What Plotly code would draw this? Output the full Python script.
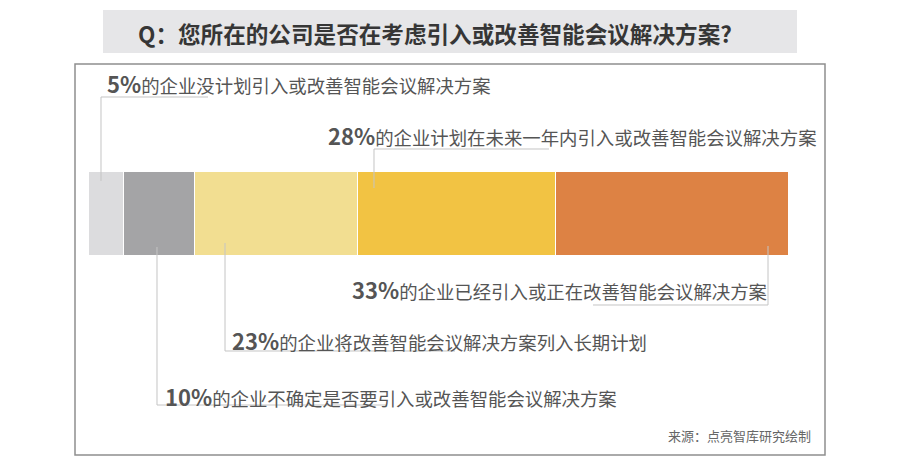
import plotly.graph_objects as go

# survey answers, left to right along the bar
pcts = [5, 10, 23, 28, 33]
descs = [
    "的企业没计划引入或改善智能会议解决方案",
    "的企业不确定是否要引入或改善智能会议解决方案",
    "的企业将改善智能会议解决方案列入长期计划",
    "的企业计划在未来一年内引入或改善智能会议解决方案",
    "的企业已经引入或正在改善智能会议解决方案",
]
colors = ["#dcdcde", "#a4a4a6", "#f2de91", "#f2c343", "#dd8244"]
title = "Q：您所在的公司是否在考虑引入或改善智能会议解决方案?"
source = "来源：点亮智库研究绘制"

W, H = 900, 471
# plot area (the bar) in pixels
L, R, T, B = 89, 789, 172, 256


def px(x):
    return (x - L) / (R - L)


def py(y):
    return (B - y) / (B - T)


# label placement (pixels): text left x, text centre y, leader polyline
labels = [
    (105, 83, [(101, 181), (101, 97), (208, 97)]),
    (163, 396, [(157, 247), (157, 405), (387, 405)]),
    (230, 340, [(225, 243), (225, 351), (455, 351)]),
    (326, 135, [(374, 188), (374, 149), (549, 149)]),
    (350, 289, [(768, 246), (768, 305), (593, 305)]),
]

fig = go.Figure()
for p, c in zip(pcts, colors):
    fig.add_trace(go.Bar(
        x=[p], y=[""], orientation="h",
        marker=dict(color=c, line=dict(color="white", width=1)),
        hoverinfo="skip", showlegend=False,
    ))

shapes = [
    dict(type="rect", xref="paper", yref="paper",
         x0=px(103), x1=px(797), y0=py(10), y1=py(53),
         fillcolor="#e6e6e8", line=dict(width=0), layer="below"),
    dict(type="rect", xref="paper", yref="paper",
         x0=px(75), x1=px(825), y0=py(64), y1=py(455),
         line=dict(color="#8f8f8f", width=1.5), layer="below"),
]
annos = [
    dict(text="<b>" + title + "</b>", x=px(435), y=py(33),
         font=dict(size=22.6, color="#363636")),
    dict(text=source, x=px(813), y=py(435), xanchor="right",
         font=dict(size=13, color="#666666")),
]

for (tx, ty, pts), p, d in zip(labels, pcts, descs):
    path = "M " + " L ".join(f"{px(a):.5f},{py(b):.5f}" for a, b in pts)
    shapes.append(dict(type="path", xref="paper", yref="paper", path=path,
                       line=dict(color="#c4c4c4", width=1)))
    annos.append(dict(
        text=f"<b><span style='font-size:22px'>{p}%</span></b>{d}",
        x=px(tx), y=py(ty), xanchor="left",
        font=dict(size=18.4, color="#555555"),
    ))

for a in annos:
    a.update(xref="paper", yref="paper", showarrow=False)
    a.setdefault("xanchor", "center")
    a.setdefault("yanchor", "middle")

fig.update_layout(
    width=W, height=H,
    margin=dict(l=L, r=W - R, t=T, b=H - B),
    barmode="stack", bargap=0,
    paper_bgcolor="white", plot_bgcolor="white",
    font=dict(family="Noto Sans CJK SC, Noto Sans, sans-serif"),
    xaxis=dict(visible=False, range=[0, sum(pcts)], fixedrange=True),
    yaxis=dict(visible=False, fixedrange=True),
    shapes=shapes, annotations=annos,
)

# drop the browser's default 8px body margin so the figure sits at 0,0
fig.write_html("out.html", config={"displayModeBar": False},
               post_script="document.body.style.margin='0';")
